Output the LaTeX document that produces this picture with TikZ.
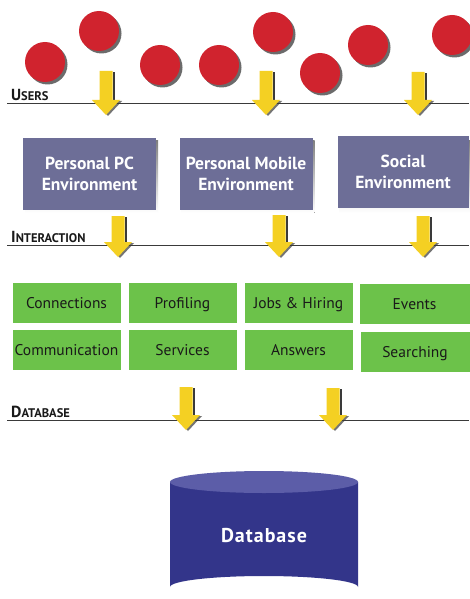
\documentclass[tikz,border=0pt]{standalone}
\usepackage{fontspec}
\setmainfont{PT Sans}
\usetikzlibrary{shapes.geometric}
\definecolor{userred}{HTML}{D0232E}
\definecolor{envslate}{HTML}{6D6E97}
\definecolor{modgreen}{HTML}{6CC24A}
\definecolor{arrowyellow}{HTML}{F4D023}
\definecolor{dbblue}{HTML}{33358A}
\definecolor{dbtop}{HTML}{5C5DA8}
\definecolor{shade}{HTML}{3A3A3A}
\tikzset{
  user/.style={circle, fill=userred, minimum size=40pt, inner sep=0pt},
  usershadow/.style={circle, fill=shade, opacity=0.75, minimum size=40pt, inner sep=0pt},
  envbox/.style={rectangle, fill=envslate, minimum width=133pt, minimum height=72pt,
    text=white, font=\fontsize{17.5}{21}\selectfont\bfseries, align=center, inner sep=0pt},
  modbox/.style={rectangle, fill=modgreen, draw=white, line width=0.4pt, minimum width=109pt, minimum height=41pt,
    text=black!90, font=\fontsize{15.5}{18}\selectfont, inner sep=0pt, text height=13pt, text depth=2pt},
  rule/.style={draw=shade, line width=1pt},
  layer/.style={anchor=base west, font=\bfseries, inner sep=0pt, text=black!90},
  flow/.style={fill=arrowyellow},
  flowshadow/.style={fill=shade}
}
% a small caps heading built from a large initial and smaller capitals
\newcommand{\layername}[2]{{\fontsize{16}{16}\selectfont #1}{\fontsize{12.5}{12.5}\selectfont #2}}
% yellow down arrow: #1 = centre x, #2 = top y, #3 = tip y
\newcommand{\downflow}[3]{%
  \fill[flowshadow] (#1+6.5,#2+1) rectangle (#1+8.5,#3-14);
  \fill[flowshadow, opacity=0.7] (#1-12,#3-14) -- (#1+16,#3-14) -- (#1+2,#3+1) -- cycle;
  \fill[flow] (#1-6.5,#2) -- (#1+6.5,#2) -- (#1+6.5,#3-15) -- (#1+14,#3-15)
     -- (#1,#3) -- (#1-14,#3-15) -- (#1-6.5,#3-15) -- cycle;}
\begin{document}
\begin{tikzpicture}[x=1pt,y=-1pt]
\useasboundingbox (0,0) rectangle (469,599);
\fill[white] (0,0) rectangle (469,599);

% users
\foreach \n/\cx/\cy in {a/45/62, b/99/31, c/160/65, d/219/65, e/273/32, f/320/73, g/368/45, h/452/35}{
  \node[usershadow] at (\cx+2.5,\cy+2.5) {};
  \node[user] (u\n) at (\cx,\cy) {};
}

% layer rules and headings
\draw[rule] (7,104) -- (469,104);
\node[layer] (lusers) at (11,101) {\layername{U}{SERS}};
\draw[rule] (7,245) -- (469,245);
\node[layer] (linter) at (11,242) {\layername{I}{NTERACTION}};
\draw[rule] (7,420) -- (469,420);
\node[layer] (ldb) at (11,417) {\layername{D}{ATABASE}};

% arrows from users
\downflow{106}{71}{115}
\downflow{266}{71}{115}
\downflow{418}{72}{115}

% environments
\foreach \n/\cx in {pc/89.5, mob/246, soc/404}{
  \fill[shade] (\cx-66.5+2,174+2.5) ++(0,-36) rectangle ++(133,72);
}
\node[envbox] (pc) at (89.5,173.5) {Personal PC\\Environment};
\node[envbox] (mob) at (246,173.5) {Personal Mobile\\Environment};
\node[envbox, minimum width=131pt] (soc) at (403,172) {Social\\Environment};

% arrows into interaction
\downflow{118}{216}{257}
\downflow{279}{215}{257}
\downflow{423}{216}{257}

% interaction modules
\node[modbox] (conn) at (66.5,302.5) {Connections};
\node[modbox] (prof) at (182.5,302.5) {Profiling};
\node[modbox] (jobs) at (298.5,302.5) {Jobs \& Hiring};
\node[modbox, minimum width=111pt] (evt) at (414.5,303.5) {Events};
\node[modbox] (comm) at (66.5,350) {Communication};
\node[modbox] (serv) at (182.5,350) {Services};
\node[modbox] (ans) at (298.5,350) {Answers};
\node[modbox, minimum width=110pt] (srch) at (415,351.5) {Searching};

% arrows into database
\downflow{186}{387}{430}
\downflow{333}{388}{430}

% database cylinder
\fill[dbblue] (170,482) -- (170,587) arc[start angle=180, end angle=360, x radius=94, y radius=11]
   -- (358,482) -- cycle;
\fill[dbtop] (264,482) ellipse[x radius=94, y radius=11];
\node[text=white, font=\fontsize{20}{24}\selectfont\bfseries, inner sep=0pt] (db) at (264,536)
  {D\kern1pt a\kern1pt t\kern1pt a\kern1pt b\kern1pt a\kern1pt s\kern1pt e};
\end{tikzpicture}
\end{document}
